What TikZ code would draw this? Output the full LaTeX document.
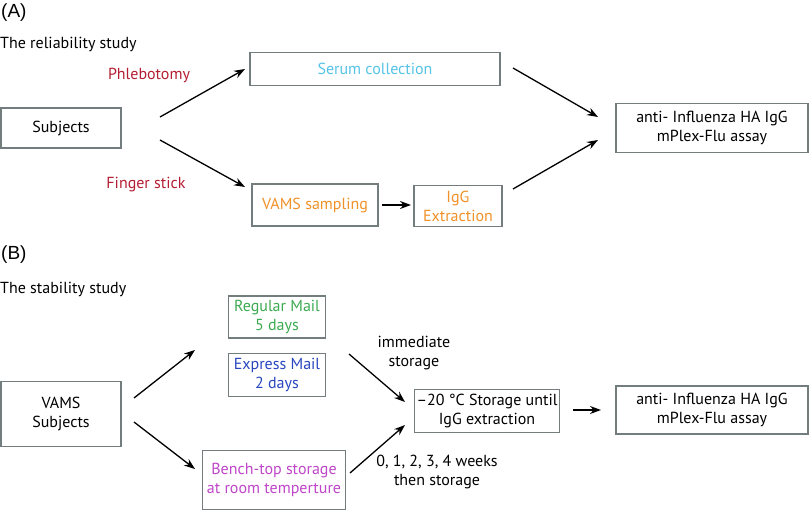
\documentclass[tikz,border=0pt]{standalone}
\usepackage{fontspec}
\setmainfont{PT Sans}
\newfontfamily\labfont{Liberation Sans}
\usetikzlibrary{arrows.meta}
\definecolor{boxgray}{RGB}{115,125,125}
\definecolor{redlab}{RGB}{180,30,50}
\definecolor{cyanlab}{RGB}{85,195,230}
\definecolor{orangelab}{RGB}{240,145,40}
\definecolor{greenlab}{RGB}{60,170,80}
\definecolor{bluelab}{RGB}{40,70,190}
\definecolor{purplelab}{RGB}{190,70,200}
\tikzset{
  box/.style={draw=boxgray, line width=1.2pt, inner sep=0pt, align=center, font=\fontsize{16}{19}\selectfont},
  txt/.style={inner sep=0pt, align=center, font=\fontsize{16}{19}\selectfont},
  arr/.style={line width=1.3pt, -{Stealth[length=11pt,width=8pt]}},
  panel/.style={inner sep=0pt, anchor=west, font=\labfont\fontsize{19}{22}\selectfont}
}
\begin{document}
\begin{tikzpicture}[x=1pt,y=-1pt]
\useasboundingbox (0,0) rectangle (811,511);
% Panel A
\node[panel] (pa) at (1,13) {(A)};
\node[txt, anchor=west] (ta) at (0,44) {The reliability study};
\node[box, minimum width=120pt, minimum height=40pt] (subj) at (61,128) {Subjects};
\node[box, minimum width=250pt, minimum height=33pt, text=cyanlab] (serum) at (375,69) {Serum collection};
\node[box, minimum width=126pt, minimum height=42pt, text=orangelab] (vams) at (315,205) {VAMS sampling};
\node[box, minimum width=88pt, minimum height=41pt, text=orangelab] (igg) at (458,206) {IgG\\Extraction};
\node[box, minimum width=192pt, minimum height=49pt] (assayA) at (712,128) {anti- Influenza HA IgG\\mPlex-Flu assay};
\node[txt, text=redlab] (phleb) at (149,75) {Phlebotomy};
\node[txt, text=redlab] (finger) at (146,185) {Finger stick};
\coordinate (a1s) at (160,117); \coordinate (a1e) at (245,69);
\coordinate (a2s) at (160,140); \coordinate (a2e) at (245,187);
\coordinate (a3s) at (382,205); \coordinate (a3e) at (411,205);
\coordinate (a4s) at (513,68); \coordinate (a4e) at (598,117);
\coordinate (a5s) at (513,189); \coordinate (a5e) at (598,140);
\draw[arr] (a1s) -- (a1e);
\draw[arr] (a2s) -- (a2e);
\draw[arr] (a3s) -- (a3e);
\draw[arr] (a4s) -- (a4e);
\draw[arr] (a5s) -- (a5e);
% Panel B
\node[panel] (pb) at (1,255) {(B)};
\node[txt, anchor=west] (tb) at (0,289) {The stability study};
\node[box, minimum width=120pt, minimum height=65pt] (vsub) at (61,414) {VAMS\\Subjects};
\node[box, minimum width=97pt, minimum height=42pt, text=greenlab] (reg) at (277,317) {Regular Mail\\5 days};
\node[box, minimum width=97pt, minimum height=43pt, text=bluelab] (exp) at (277,375) {Express Mail\\2 days};
\node[box, minimum width=143pt, minimum height=59pt, text=purplelab] (bench) at (274,480) {Bench-top storage\\at room temperture};
\node[box, minimum width=145pt, minimum height=43pt] (store) at (487,411) {\textendash20 \textdegree C Storage until\\IgG extraction};
\node[box, minimum width=192pt, minimum height=48pt] (assayB) at (712,410) {anti- Influenza HA IgG\\mPlex-Flu assay};
\node[txt] (imm) at (414,353) {immediate\\storage};
\node[txt] (weeks) at (437,472) {0, 1, 2, 3, 4 weeks\\then storage};
\coordinate (b1s) at (134,398); \coordinate (b1e) at (195,350);
\coordinate (b2s) at (134,422); \coordinate (b2e) at (195,469);
\coordinate (b3s) at (349,354); \coordinate (b3e) at (405,402);
\coordinate (b4s) at (350,473); \coordinate (b4e) at (405,425);
\coordinate (b5s) at (573,410); \coordinate (b5e) at (601,410);
\draw[arr] (b1s) -- (b1e);
\draw[arr] (b2s) -- (b2e);
\draw[arr] (b3s) -- (b3e);
\draw[arr] (b4s) -- (b4e);
\draw[arr] (b5s) -- (b5e);
\end{tikzpicture}
\end{document}
